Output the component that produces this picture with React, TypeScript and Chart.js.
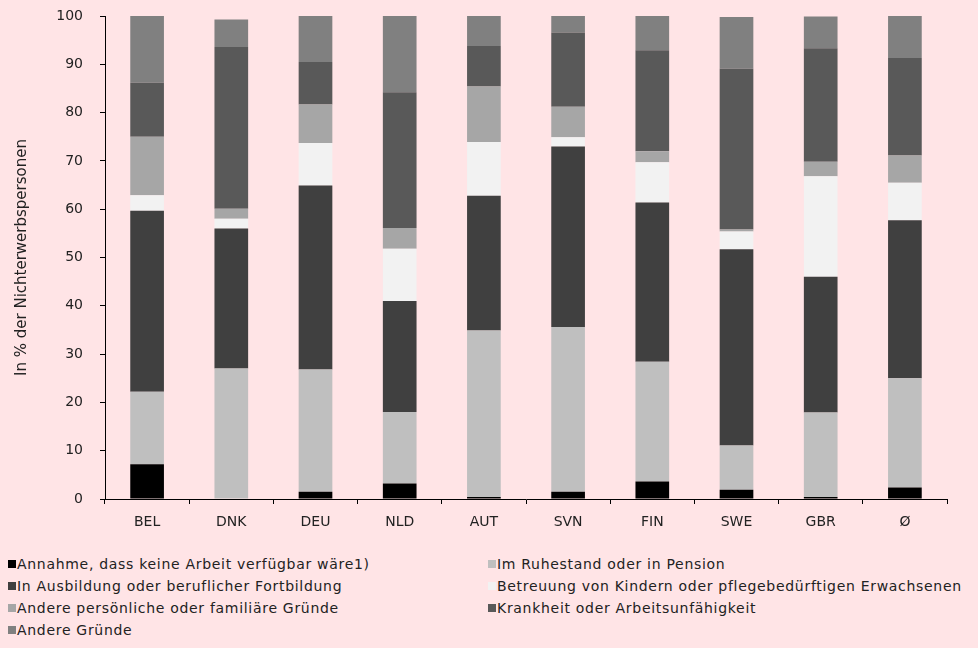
import React, { useEffect, useRef } from "react";
import { Chart, registerables } from "chart.js";

Chart.register(...registerables);

const categories = ["BEL", "DNK", "DEU", "NLD", "AUT", "SVN", "FIN", "SWE", "GBR", "Ø"];

const seriesNames = [
  "Annahme, dass keine Arbeit verfügbar wäre1)",
  "Im Ruhestand oder in Pension",
  "In Ausbildung oder beruflicher Fortbildung",
  "Betreuung von Kindern oder pflegebedürftigen Erwachsenen",
  "Andere persönliche oder familiäre Gründe",
  "Krankheit oder Arbeitsunfähigkeit",
  "Andere Gründe",
];

const annahme = [7.2, 0, 1.5, 3.2, 0.4, 1.5, 3.6, 1.9, 0.4, 2.4];
const ruhestand = [15.0, 27.0, 25.3, 14.8, 34.5, 34.1, 24.8, 9.2, 17.5, 22.6];
const ausbildung = [37.5, 29.0, 38.1, 23.0, 27.9, 37.4, 33.0, 40.6, 28.1, 32.7];
const betreuung = [3.2, 2.0, 8.8, 10.8, 11.1, 1.9, 8.3, 3.7, 20.8, 7.8];
const persoenlich = [12.1, 2.1, 8.0, 4.3, 11.5, 6.3, 2.3, 0.4, 3.0, 5.6];
const krankheit = [11.2, 33.5, 8.8, 28.1, 8.4, 15.4, 20.9, 33.3, 23.5, 20.2];
const andere = [13.8, 5.7, 9.5, 15.8, 6.2, 3.5, 7.1, 10.7, 6.6, 8.7];

const yTicks = [0, 10, 20, 30, 40, 50, 60, 70, 80, 90, 100];

const colors = ["#000000", "#bfbfbf", "#404040", "#f2f2f2", "#a6a6a6", "#595959", "#808080"];
const seriesData = [annahme, ruhestand, ausbildung, betreuung, persoenlich, krankheit, andere];

const BG = "#ffe4e6";
const FONT = "'DejaVu Sans', 'Open Sans', sans-serif";

export default function App() {
  const canvasRef = useRef<HTMLCanvasElement | null>(null);

  useEffect(() => {
    document.body.style.margin = "0";
    document.body.style.background = BG;
    const ctx = canvasRef.current!.getContext("2d")!;
    const chart = new Chart(ctx, {
      type: "bar",
      data: {
        labels: categories,
        datasets: seriesData.map((d, i) => ({
          label: seriesNames[i],
          data: d,
          backgroundColor: colors[i],
          borderWidth: 0,
          barPercentage: 0.4,
          categoryPercentage: 1,
        })),
      },
      options: {
        animation: false,
        responsive: false,
        maintainAspectRatio: false,
        layout: { padding: { left: 0, right: 31, top: 16, bottom: 0 } },
        plugins: { legend: { display: false }, tooltip: { enabled: false } },
        scales: {
          x: {
            stacked: true,
            grid: { display: true, drawOnChartArea: false, offset: true, tickLength: 5, color: "#000", lineWidth: 1 },
            border: { display: true, color: "#000", width: 1 },
            ticks: { color: "#222", font: { family: FONT, size: 14 }, padding: 10 },
            afterFit: (s: any) => { s.height = 49; s.paddingLeft = 0; s.paddingRight = 0; },
          },
          y: {
            stacked: true,
            min: 0,
            max: 100,
            afterBuildTicks: (s: any) => { s.ticks = yTicks.map((v) => ({ value: v })); },
            grid: { display: true, drawOnChartArea: false, tickLength: 5, color: "#000", lineWidth: 1 },
            border: { display: true, color: "#000", width: 1 },
            ticks: { color: "#222", font: { family: FONT, size: 14 }, padding: 17 },
            title: {
              display: true,
              text: "In % der Nichterwerbspersonen",
              color: "#222",
              font: { family: FONT, size: 15 },
              padding: { top: 13, bottom: 0 },
            },
            afterFit: (s: any) => { s.width = 105; s.paddingTop = 0; s.paddingBottom = 0; },
          },
        },
      },
    });
    return () => chart.destroy();
  }, []);

  return (
    <div style={{ width: 978, height: 648, background: BG, position: "relative", overflow: "hidden" }}>
      <canvas ref={canvasRef} width={978} height={548} style={{ display: "block" }} />
      <div
        style={{
          position: "absolute",
          left: 8,
          top: 553,
          display: "grid",
          gridTemplateColumns: "480px 480px",
          gridAutoRows: "22px",
          fontFamily: FONT,
          fontSize: 14,
          letterSpacing: "0.7px",
          color: "#222",
        }}
      >
        {seriesNames.map((n, i) => (
          <div key={n} style={{ display: "flex", alignItems: "center", whiteSpace: "nowrap" }}>
            <span style={{ display: "inline-block", width: 8, height: 8, background: colors[i], marginRight: 1 }} />
            <span>{n}</span>
          </div>
        ))}
      </div>
    </div>
  );
}
